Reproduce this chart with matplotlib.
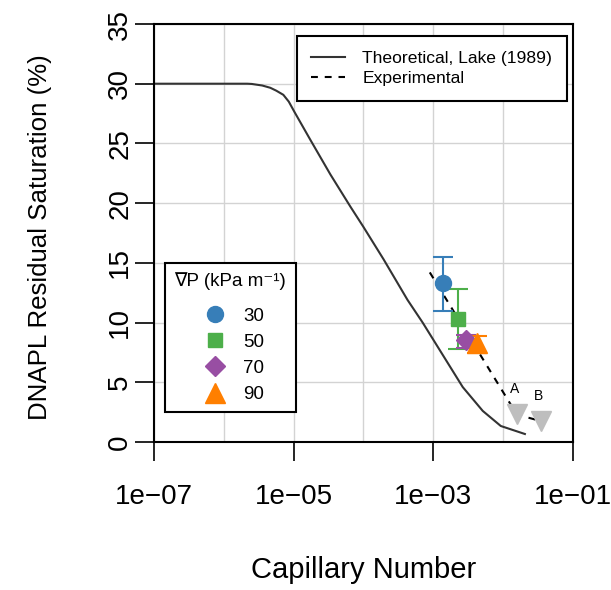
import numpy as np
import matplotlib
matplotlib.use("Agg")
import matplotlib.pyplot as plt
from matplotlib.lines import Line2D

plt.rcParams['font.family'] = ['Liberation Sans', 'DejaVu Sans']

# ---- data ----
theory_logx = [-7.0, -5.665, -5.6, -5.45, -5.335, -5.25, -5.148, -5.07, -4.99, -4.761,
               -4.474, -4.187, -4.0, -3.713, -3.37, -3.153, -2.579, -2.292, -2.034, -1.689]
theory_y = [30.0, 30.0, 29.98, 29.85, 29.66, 29.42, 29.07, 28.5, 27.65, 25.3,
            22.4, 19.7, 18.0, 15.3, 11.9, 10.0, 4.6, 2.6, 1.34, 0.67]

exp_x = [8.9e-4, 1.57e-2, 3.47e-2]
exp_y = [14.2, 2.3, 1.75]

grad_labels = ['30', '50', '70', '90']
grad_x = [1.36e-3, 2.23e-3, 2.91e-3, 4.19e-3]
grad_y = [13.28, 10.28, 8.5, 8.27]
grad_lo = [11.0, 7.77, 7.85, 7.43]
grad_hi = [15.5, 12.8, 9.0, 8.85]
grad_colors = ['#377EB8', '#4DAF4A', '#984EA3', '#FF7F00']
grad_markers = ['o', 's', 'D', '^']
grad_sizes = [11.5, 10, 10, 14]

extra_labels = ['A', 'B']
extra_x = [1.57e-2, 3.47e-2]
extra_y = [2.34, 1.75]

xticks = [1e-7, 1e-5, 1e-3, 1e-1]
xticklabels = ['1e\u221207', '1e\u221205', '1e\u221203', '1e\u221201']
yticks = [0, 5, 10, 15, 20, 25, 30, 35]

# ---- figure ----
fig = plt.figure(figsize=(6.11, 5.90), dpi=100)
ax = fig.add_axes([154/611, 1-442/590, (573-154)/611, (442-24)/590])
ax.set_xscale('log')
ax.set_xlim(1e-7, 1e-1)
ax.set_ylim(0, 35)

# grid
for d in range(-7, 0):
    ax.axvline(10.0**d, color='#d3d3d3', lw=1.0, zorder=0)
for yv in yticks:
    ax.axhline(yv, color='#d3d3d3', lw=1.0, zorder=0)

ax.plot(10.0**np.array(theory_logx), theory_y, color='#333333', lw=1.5, zorder=2)
ax.plot(exp_x, exp_y, color='black', lw=1.5, dashes=(3.3, 3.3), zorder=2)

for i in range(4):
    yerr = [[grad_y[i]-grad_lo[i]], [grad_hi[i]-grad_y[i]]]
    ax.errorbar([grad_x[i]], [grad_y[i]], yerr=yerr, fmt='none', ecolor=grad_colors[i],
                elinewidth=1.5, capsize=7, capthick=1.5, zorder=3)
    ax.plot([grad_x[i]], [grad_y[i]], marker=grad_markers[i], ms=grad_sizes[i],
            color=grad_colors[i], mec=grad_colors[i], ls='none', zorder=4)

ax.plot(extra_x, extra_y, marker='v', ms=14, color='#bebebe', ls='none', zorder=4)
for lab, xx, yy in zip(extra_labels, extra_x, extra_y):
    ax.annotate(lab, (xx, yy), xytext=(-1.5, 18), textcoords='offset points',
                ha='center', va='center', fontsize=10)

# axes styling
ax.set_xticks(xticks)
ax.set_xticklabels(xticklabels)
ax.xaxis.set_minor_locator(matplotlib.ticker.NullLocator())
ax.set_yticks(yticks)
ax.tick_params(axis='both', direction='out', length=13.5, width=1.2, labelsize=20)
ax.tick_params(axis='x', pad=17)
ax.tick_params(axis='y', pad=1.5, labelrotation=90)
for lab in ax.get_yticklabels():
    lab.set_va('center')
for s in ax.spines.values():
    s.set_linewidth(1.5)

ax.set_xlabel('Capillary Number', fontsize=21)
ax.xaxis.set_label_coords(0.5, -0.325)
ax.xaxis.label.set_va('baseline')
ax.set_ylabel('DNAPL Residual Saturation (%)', fontsize=18.6)
ax.yaxis.set_label_coords(-0.272, 0.49)
ax.yaxis.label.set_va('center')

# legend 1
h1 = [Line2D([], [], color='#333333', lw=1.5),
      Line2D([], [], color='black', lw=1.5, dashes=(3.3, 3.3))]
leg1 = ax.legend(h1, ['Theoretical, Lake (1989)', 'Experimental'],
                 loc='upper right', bbox_to_anchor=(0.9857, 0.971), fontsize=12.6,
                 handlelength=1.9, handletextpad=1.0, labelspacing=0.28,
                 borderpad=0.85, borderaxespad=0, fancybox=False, framealpha=1,
                 edgecolor='black')
leg1.get_frame().set_linewidth(1.5)
ax.add_artist(leg1)

# legend 2
h2 = [Line2D([], [], marker=grad_markers[i], ms=grad_sizes[i], color=grad_colors[i],
             ls='none') for i in range(4)]
leg2 = ax.legend(h2, grad_labels, title='\u2207P (kPa m\u207b\u00b9)', title_fontsize=13.5,
                 loc='upper left', bbox_to_anchor=((165-154)/419, (442-263)/418),
                 fontsize=13.5, labelspacing=0.48, handletextpad=0.5, borderpad=0.5,
                 borderaxespad=0, fancybox=False, framealpha=1, edgecolor='black')
leg2.get_frame().set_linewidth(1.5)
leg2._legend_box.sep = 12.5

fig.savefig('out.png', dpi=100)
